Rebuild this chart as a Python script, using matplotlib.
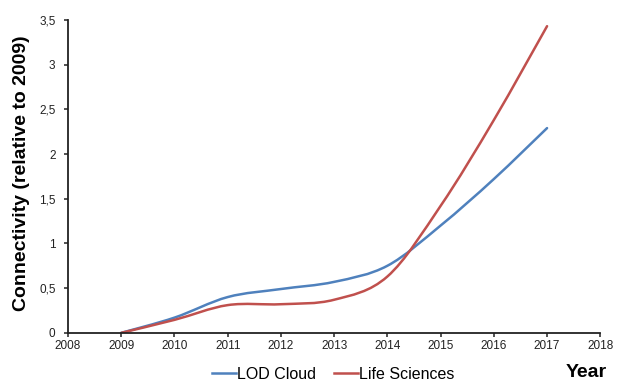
import matplotlib
matplotlib.use("Agg")
import matplotlib.pyplot as plt
from matplotlib.path import Path
from matplotlib.patches import PathPatch
from matplotlib.lines import Line2D
from matplotlib.ticker import FuncFormatter
import numpy as np

plt.rcParams['font.family'] = ['Liberation Sans', 'DejaVu Sans']

years = [2009, 2010, 2011, 2012, 2013, 2014, 2015, 2016, 2017]
lod_cloud = [0, 0.17, 0.40, 0.49, 0.57, 0.75, 1.20, 1.72, 2.29]
life_sciences = [0, 0.145, 0.31, 0.32, 0.37, 0.63, 1.42, 2.38, 3.43]
series_names = ["LOD Cloud", "Life Sciences"]
colors = ["#4F81BD", "#C0504D"]


def smooth_path(xs, ys):
    pts = np.column_stack([xs, ys]).astype(float)
    n = len(pts)
    verts = [pts[0]]
    codes = [Path.MOVETO]
    for i in range(n - 1):
        p0 = pts[i - 1] if i > 0 else pts[i]
        p1 = pts[i]
        p2 = pts[i + 1]
        p3 = pts[i + 2] if i + 2 < n else pts[i + 1]
        c1 = p1 + (p2 - p0) / 6.0
        c2 = p2 - (p3 - p1) / 6.0
        verts += [c1, c2, p2]
        codes += [Path.CURVE4] * 3
    return Path(verts, codes)


fig = plt.figure(figsize=(6.24, 3.83), dpi=100)
ax = fig.add_axes([0.109, 0.131, 0.853, 0.817])

handles = []
for ys, name, c in zip([lod_cloud, life_sciences], series_names, colors):
    patch = PathPatch(smooth_path(years, ys), facecolor='none', edgecolor=c,
                      lw=1.8, capstyle='round', joinstyle='round')
    ax.add_patch(patch)
    handles.append(Line2D([], [], color=c, lw=1.8))

ax.set_xlim(2008, 2018)
ax.set_ylim(0, 3.5)
ax.set_xticks(range(2008, 2019))
ax.set_yticks(np.arange(0, 3.51, 0.5))
ax.yaxis.set_major_formatter(FuncFormatter(lambda v, p: ('%g' % v).replace('.', ',')))

for s in ['top', 'right']:
    ax.spines[s].set_visible(False)
for s in ['left', 'bottom']:
    ax.spines[s].set_linewidth(1.3)
    ax.spines[s].set_color('#222222')
ax.tick_params(axis='both', direction='out', length=3, width=1.1, labelsize=8.5,
               colors='#222222')
ax.tick_params(axis='y', pad=6)
ax.tick_params(axis='x', pad=2)

ax.set_ylabel("Connectivity (relative to 2009)", fontsize=14, fontweight='bold')
ax.yaxis.set_label_coords(-0.071, 0.51)

fig.legend(handles, series_names, loc='center', bbox_to_anchor=(0.534, 0.022),
           ncol=2, frameon=False, fontsize=11.5, handlelength=1.5, handletextpad=0.1,
           columnspacing=1.1, borderpad=0, borderaxespad=0)
fig.text(0.973, 0.028, "Year", fontsize=14, fontweight='bold', ha='right', va='center')

fig.savefig("out.png", dpi=100)
